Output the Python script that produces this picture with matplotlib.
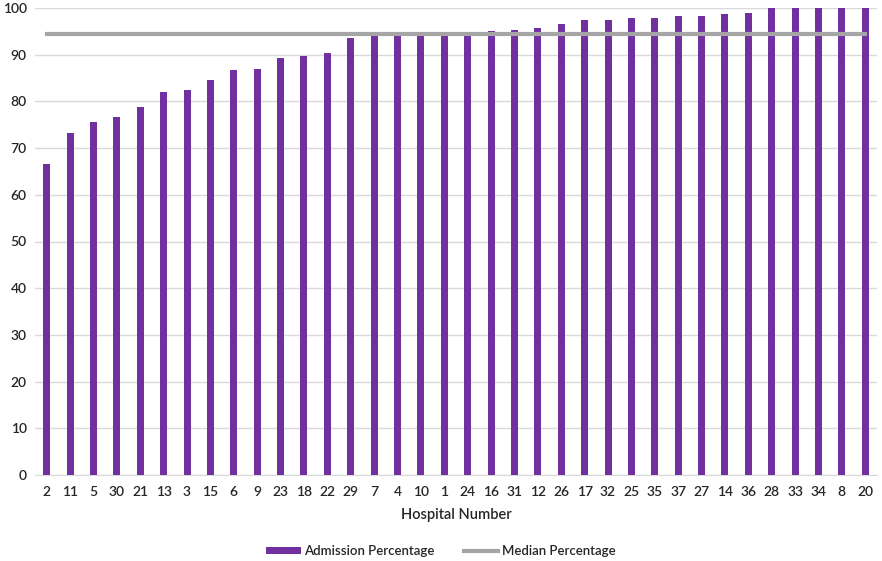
import matplotlib
matplotlib.use("Agg")
import numpy as np
import matplotlib.pyplot as plt

plt.rcParams['font.family'] = ['Lato', 'DejaVu Sans']

hospitals = ['2', '11', '5', '30', '21', '13', '3', '15', '6', '9', '23', '18',
             '22', '29', '7', '4', '10', '1', '24', '16', '31', '12', '26', '17',
             '32', '25', '35', '37', '27', '14', '36', '28', '33', '34', '8', '20']
admission = [66.7, 73.3, 75.6, 76.7, 78.9, 82.0, 82.5, 84.6, 86.7, 87.0, 89.3, 89.7,
             90.3, 93.5, 94.0, 94.0, 94.3, 94.3, 94.3, 95.0, 95.3, 95.7, 96.6, 97.4,
             97.4, 97.9, 97.9, 98.3, 98.3, 98.7, 99.0, 100, 100, 100, 100, 100]
median_pct = 94.5

fig = plt.figure(figsize=(8.82, 5.61), dpi=100)
ax = fig.add_axes([35/882, 1 - 475/561, (877-35)/882, (475-8)/561])

x = np.arange(len(hospitals))
bars = ax.bar(x, admission, width=0.3, color='#7030A0', label='Admission Percentage', zorder=3)
line, = ax.plot(x, [median_pct] * len(x), color='#A5A5A5', lw=3, label='Median Percentage', zorder=4)

ax.set_xlim(-0.5, len(x) - 0.5)
ax.set_ylim(0, 100)
ax.set_yticks(range(0, 101, 10))
ax.set_xticks(x)
ax.set_xticklabels(hospitals)
ax.grid(axis='y', color='#D9D9D9', lw=1, zorder=0)
for s in ['top', 'right', 'left']:
    ax.spines[s].set_visible(False)
ax.spines['bottom'].set_color('#D9D9D9')
ax.tick_params(length=0, labelsize=10, colors='#262626', pad=8)
ax.tick_params(axis='y', pad=6)
for t in ax.get_xticklabels() + ax.get_yticklabels():
    t.set_fontweight('semibold')

ax.set_xlabel('Hospital Number', fontsize=10.5, color='#262626', fontweight='semibold', labelpad=7)

# legend centred under the axis label
fig.legend([bars, line], ['Admission Percentage', 'Median Percentage'],
           loc='center', bbox_to_anchor=(0.5, 1 - 551/561), ncol=2, frameon=False,
           handlelength=2.6, handleheight=0.5, handletextpad=0.3, columnspacing=2.2,
           labelcolor='#262626', prop={'weight': 'semibold', 'size': 9.5})

fig.savefig('out.png', dpi=100)
